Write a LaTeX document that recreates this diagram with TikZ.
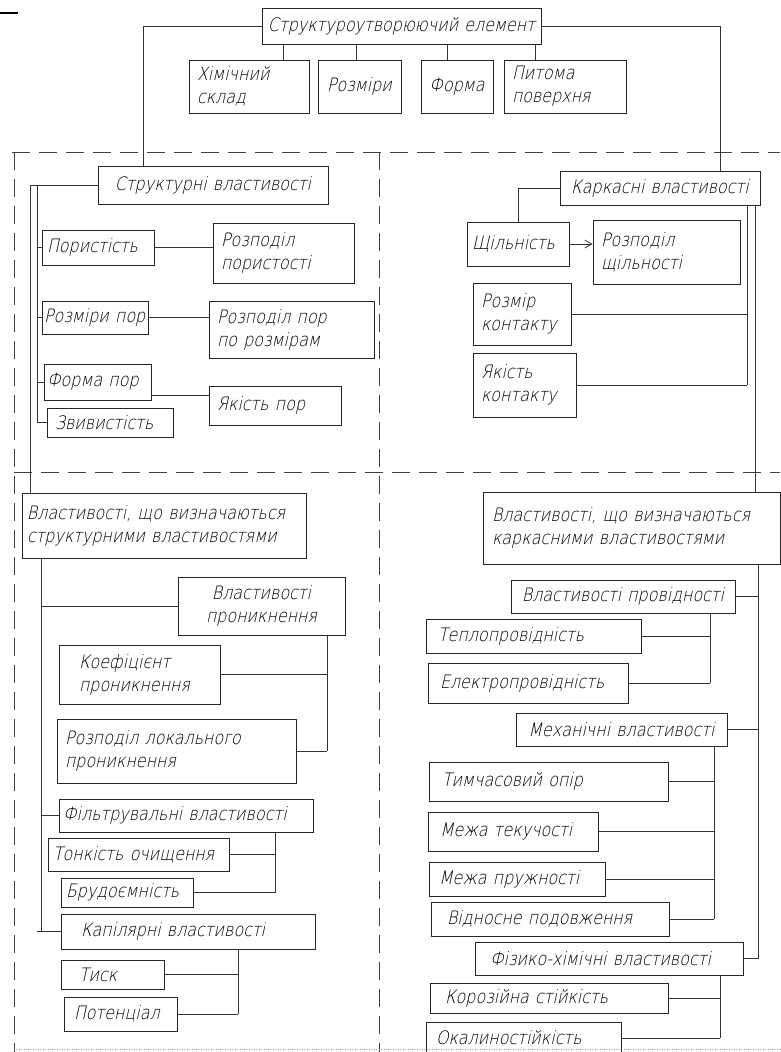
\documentclass[tikz,border=0pt]{standalone}
\usepackage{fontspec}
\newfontfamily\gost{DejaVu Sans ExtraLight}[FakeSlant=0.22,FakeStretch=0.86]
\usetikzlibrary{positioning,arrows.meta}
\hyphenpenalty=10000
\exhyphenpenalty=10000

\begin{document}
\begin{tikzpicture}[
        x=1pt, y=-1pt,
        box/.style={rectangle, draw=black!85, line width=0.9pt, inner xsep=8pt, inner ysep=2pt, align=left, font=\gost\fontsize{18.5}{23}\selectfont},
        link/.style={draw=black!80, line width=0.8pt},
        zone/.style={draw=black!75, line width=0.8pt, dash pattern=on 18pt off 9pt},
        arrow/.style={link, -{Straight Barb[length=7pt,width=8pt]}}
    ]
    \useasboundingbox (0,0) rectangle (780,1052);

    % Zones
    \draw[line width=2pt] (0,13) -- (18,13);
    \draw[zone] (12,152) -- (780,152);
    \draw[zone] (14,152) -- (14,1052);
    \draw[zone] (379,152) -- (379,1052);
    \draw[zone] (14,472) -- (780,472);
    \draw[black!40, dotted] (14,1049) -- (780,1049);

    % Structure-forming element
    \node[box, inner xsep=4pt, text width=271pt, minimum height=36pt, align=center] (se) at (401.5,26) {Структуроутворюючий елемент};
    \node[box, text width=104pt, minimum height=53pt] (hs) at (249,86.5) {Хімічний\\склад};
    \node[box, inner xsep=5pt, text width=73pt, minimum height=53pt, align=center] (rz) at (359.5,86.5) {Розміри};
    \node[box, inner xsep=5pt, text width=62pt, minimum height=53pt, align=center] (fo) at (457,86.5) {Форма};
    \node[box, text width=106pt, minimum height=53pt] (pp) at (565,86.5) {Питома\\поверхня};

    % Structural properties
    \node[box, text width=214pt, minimum height=38pt, align=center] (sv) at (213,185) {Структурні властивості};
    \node[box, inner xsep=5pt, text width=102pt, minimum height=35pt] (por) at (98,247.5) {Пористість};
    \node[box, text width=125pt, minimum height=60pt] (rpor) at (283.5,253) {Розподіл\\пористості};
    \node[box, inner xsep=2pt, text width=102pt, minimum height=33pt] (rp) at (95,317.5) {Розміри пор};
    \node[box, text width=149pt, minimum height=57pt] (rpr) at (291.5,329.5) {Розподіл пор\\по розмірам};
    \node[box, inner xsep=3pt, text width=101pt, minimum height=36pt] (fp) at (97.5,382) {Форма пор};
    \node[box, text width=110pt, minimum height=29pt] (zv) at (110,422.5) {Звивистість};
    \node[box, text width=116pt, minimum height=39pt] (yp) at (275,405.5) {Якість пор};

    % Frame properties
    \node[box, inner xsep=4pt, text width=192pt, minimum height=34pt, align=center] (kv) at (660,188) {Каркасні властивості};
    \node[box, inner xsep=5pt, text width=92pt, minimum height=44pt] (shch) at (518,244) {Щільність};
    \node[box, text width=131pt, minimum height=64pt] (rshch) at (666.5,252) {Розподіл\\щільності};
    \node[box, text width=82pt, minimum height=62pt] (rk) at (522,314) {Розмір\\контакту};
    \node[box, text width=87pt, minimum height=64pt] (yk) at (524.5,385) {Якість\\контакту};

    % Properties defined by structural properties
    \node[box, inner xsep=5pt, text width=274pt, minimum height=65pt] (vs) at (164,525.5) {Властивості, що визначаються\\структурними властивостями};
    \node[box, text width=151pt, minimum height=58pt, align=center] (vp) at (261.5,606) {Властивості\\проникнення};
    \node[box, inner xsep=20pt, text width=121pt, minimum height=59pt] (kp) at (139.5,674.5) {Коефіцієнт\\проникнення};
    \node[box, text width=223pt, minimum height=64pt] (rl) at (176.5,751) {Розподіл локального\\проникнення};
    \node[box, inner xsep=4pt, text width=246pt, minimum height=33pt] (fv) at (186,815.5) {Фільтрувальні властивості};
    \node[box, inner xsep=5pt, text width=171pt, minimum height=33pt] (toch) at (138.5,854.5) {Тонкість очищення};
    \node[box, inner xsep=5pt, text width=122pt, minimum height=29pt] (br) at (127,892.5) {Брудоємність};
    \node[box, inner xsep=20pt, text width=214pt, minimum height=35pt] (kap) at (188,931.5) {Капілярні властивості};
    \node[box, inner xsep=18pt, text width=67pt, minimum height=29pt] (tsk) at (112.5,974.5) {Тиск};
    \node[box, inner xsep=10pt, text width=93pt, minimum height=34pt] (pot) at (120.5,1014) {Потенціал};

    % Properties defined by frame properties
    \node[box, inner xsep=9pt, text width=279pt, minimum height=72pt] (vk) at (631.5,528) {Властивості, що визначаються\\каркасними властивостями};
    \node[box, inner xsep=4pt, text width=216pt, minimum height=33pt, align=center] (vpr) at (623,596.5) {Властивості провідності};
    \node[box, inner xsep=12pt, text width=191pt, minimum height=34pt] (tep) at (533.5,636) {Теплопровідність};
    \node[box, inner xsep=12pt, text width=176pt, minimum height=40pt] (el) at (528,683) {Електропровідність};
    \node[box, text width=195pt, minimum height=33pt, align=center] (mv) at (621.5,729.5) {Механічні властивості};
    \node[box, inner xsep=13pt, text width=213pt, minimum height=39pt] (tim) at (548.5,781.5) {Тимчасовий опір};
    \node[box, inner xsep=12pt, text width=146pt, minimum height=39pt] (mt) at (513,831.5) {Межа текучості};
    \node[box, inner xsep=10pt, text width=156pt, minimum height=34pt] (mpr) at (517,879) {Межа пружності};
    \node[box, inner xsep=16pt, text width=206pt, minimum height=34pt] (vpd) at (550,919) {Відносне подовження};
    \node[box, inner xsep=15pt, text width=238pt, minimum height=33pt] (fh) at (609,958.5) {Фізико-хімічні властивості};
    \node[box, inner xsep=15pt, text width=208pt, minimum height=30pt] (kor) at (549,998) {Корозійна стійкість};
    \node[box, inner xsep=10pt, text width=175pt, minimum height=32pt] (ok) at (523.5,1038) {Окалиностійкість};

    % Connectors: top
    \draw[link] (se.west) -| ([xshift=-70pt]sv.north);
    \draw[link] (se.east) -| ([xshift=60pt]kv.north);
    \draw[link] ([xshift=34pt]hs.north) -- ([xshift=34pt]hs.north |- se.south);
    \draw[link] ([xshift=-3pt]rz.north) -- ([xshift=-3pt]rz.north |- se.south);
    \draw[link] ([xshift=-10pt]fo.north) -- ([xshift=-10pt]fo.north |- se.south);
    \draw[link] ([xshift=-30pt]pp.north) -- ([xshift=-30pt]pp.north |- se.south);

    % Connectors: structural
    \coordinate (sb1) at (30,0);
    \coordinate (sb2) at (37,0);
    \draw[link] (sv.west) -| (vs.north -| sb1);
    \draw[link] (sv.west -| sb2) -- (zv.west -| sb2);
    \foreach \n in {por,rp,fp,zv}
        \draw[link] (\n.west -| sb2) -- (\n.west);
    \draw[link] (por.east) -- (por.east -| rpor.west);
    \draw[link] (rp.east) -- (rp.east -| rpr.west);
    \draw[link] ([yshift=-13pt]fp.east) -- ([yshift=-13pt]fp.east -| yp.west);

    % Connectors: frame
    \draw[link] (kv.west) -| (shch.north);
    \draw[arrow] (shch.east) -- (shch.east -| rshch.west);
    \coordinate (kb1) at (747,0);
    \coordinate (kb2) at (755,0);
    \draw[link] (kv.south -| kb1) -- (yk.east -| kb1);
    \foreach \n in {rk,yk}
        \draw[link] (\n.east) -- (\n.east -| kb1);
    \draw[link] (kv.south -| kb2) -- (vk.north -| kb2);

    % Connectors: defined by structural
    \coordinate (lb) at (41,0);
    \draw[link] (vs.south -| lb) -- (kap.west -| lb);
    \foreach \n in {vp,fv}
        \draw[link] (\n.west -| lb) -- (\n.west);
    \draw[link] ([xshift=-4pt]kap.west -| lb) -- (kap.west);
    \coordinate (pb) at (327,0);
    \draw[link] (vp.south -| pb) -- (rl.east -| pb);
    \foreach \n in {kp,rl}
        \draw[link] (\n.east) -- (\n.east -| pb);
    \coordinate (fb) at (275,0);
    \draw[link] (fv.south -| fb) -- (br.east -| fb);
    \foreach \n in {toch,br}
        \draw[link] (\n.east) -- (\n.east -| fb);
    \coordinate (cb) at (238,0);
    \draw[link] (kap.south -| cb) -- (pot.east -| cb);
    \foreach \n in {tsk,pot}
        \draw[link] (\n.east) -- (\n.east -| cb);

    % Connectors: defined by frame
    \coordinate (vb) at (758,0);
    \draw[link] (vk.south -| vb) -- (fh.east -| vb);
    \foreach \n in {vpr,mv,fh}
        \draw[link] (\n.east) -- (\n.east -| vb);
    \coordinate (prb) at (710,0);
    \draw[link] (vpr.south -| prb) -- (el.east -| prb);
    \foreach \n in {tep,el}
        \draw[link] (\n.east) -- (\n.east -| prb);
    \coordinate (mb) at (714,0);
    \draw[link] (mv.south -| mb) -- (vpd.east -| mb);
    \foreach \n in {tim,mt,mpr,vpd}
        \draw[link] (\n.east) -- (\n.east -| mb);
    \coordinate (hb) at (720,0);
    \draw[link] (fh.south -| hb) -- (ok.east -| hb);
    \foreach \n in {kor,ok}
        \draw[link] (\n.east) -- (\n.east -| hb);

\end{tikzpicture}
\end{document}
